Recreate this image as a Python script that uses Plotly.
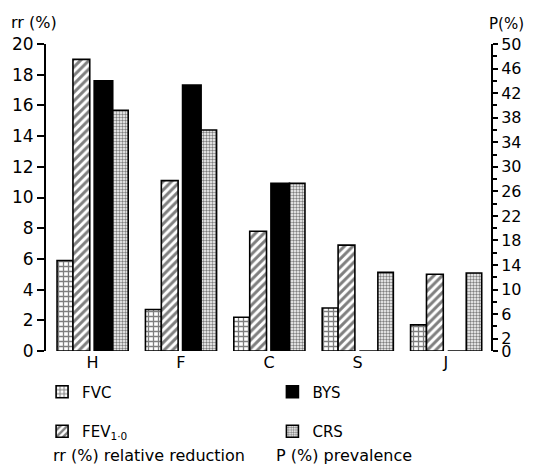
import plotly.graph_objects as go

groups = ["H", "F", "C", "S", "J"]
fvc_rr = [5.9, 2.7, 2.2, 2.8, 1.7]
fev_rr = [19.0, 11.1, 7.8, 6.9, 5.0]
bys_p = [44, 43.3, 27.3, 0, 0]
crs_p = [39.2, 36, 27.3, 12.8, 12.7]

left_ticks = [0, 2, 4, 6, 8, 10, 12, 14, 16, 18, 20]
right_ticks = [0, 2, 6, 10, 14, 18, 22, 26, 30, 34, 38, 42, 46, 50]

FONT = "DejaVu Sans"
line = dict(color="black", width=1.6)

fig = go.Figure()
fig.add_trace(go.Bar(
    x=groups, y=fvc_rr, name="FVC", yaxis="y", offsetgroup="a",
    offset=-0.40, width=0.18, legend="legend",
    marker=dict(color="white", line=line,
                pattern=dict(shape="+", size=5, solidity=0.45, fgcolor="black", bgcolor="white")),
))
fig.add_trace(go.Bar(
    x=groups, y=fev_rr, name="FEV<sub>1·0</sub>", yaxis="y", offsetgroup="b",
    offset=-0.22, width=0.19, legend="legend3",
    marker=dict(color="white", line=line,
                pattern=dict(shape="/", size=6, solidity=0.5, fgcolor="black", bgcolor="white")),
))
fig.add_trace(go.Bar(
    x=groups, y=bys_p, name="BYS", yaxis="y2", offsetgroup="c",
    offset=0.02, width=0.21, legend="legend2",
    marker=dict(color="black", line=line),
))
fig.add_trace(go.Bar(
    x=groups, y=crs_p, name="CRS", yaxis="y2", offsetgroup="d",
    offset=0.23, width=0.175, legend="legend4",
    marker=dict(color="white", line=line,
                pattern=dict(shape=".", size=3, solidity=0.5, fgcolor="black", bgcolor="white")),
))

def leg(x, y):
    return dict(x=x, y=y, xanchor="left", yanchor="middle", font=dict(size=15),
                bgcolor="rgba(0,0,0,0)", borderwidth=0)

fig.update_layout(
    width=534, height=466,
    margin=dict(l=46, r=36, t=44, b=115),
    paper_bgcolor="white", plot_bgcolor="white",
    font=dict(family=FONT, color="black", size=15),
    barmode="group",
    xaxis=dict(range=[-0.525, 4.51], showline=False, showgrid=False, zeroline=False,
               ticks="", tickfont=dict(size=16), fixedrange=True),
    yaxis=dict(range=[0, 20], tickvals=left_ticks,
               showline=True, linecolor="black", linewidth=2, ticks="outside",
               ticklen=7, tickwidth=2, tickcolor="black", showgrid=False, zeroline=False,
               tickfont=dict(size=17)),
    yaxis2=dict(range=[0, 50], overlaying="y", side="right", tickvals=right_ticks,
                showline=True, linecolor="black", linewidth=2,
                ticks="outside", ticklen=5, tickwidth=2, tickcolor="black",
                showgrid=False, zeroline=False, tickfont=dict(size=16),
                minor=dict(tickvals=list(range(0, 51, 2)), ticks="outside", ticklen=4,
                           tickwidth=1.5, tickcolor="black")),
    legend=leg(-0.0088, -0.1336),
    legend2=leg(0.5088, -0.1336),
    legend3=leg(-0.0088, -0.262),
    legend4=leg(0.5088, -0.262),
    showlegend=True,
)

fig.add_annotation(text="rr (%)", xref="paper", yref="paper", x=-0.083, y=1.07,
                   xanchor="left", yanchor="middle", showarrow=False, font=dict(size=16))
fig.add_annotation(text="P(%)", xref="paper", yref="paper", x=1.0796, y=1.065,
                   xanchor="right", yanchor="middle", showarrow=False, font=dict(size=15))
fig.add_annotation(text="rr (%) relative reduction", xref="paper", yref="paper", x=0.011, y=-0.34,
                   xanchor="left", yanchor="middle", showarrow=False, font=dict(size=16))
fig.add_annotation(text="P (%) prevalence", xref="paper", yref="paper", x=0.513, y=-0.34,
                   xanchor="left", yanchor="middle", showarrow=False, font=dict(size=16))

fig.write_html("out.html", config={"displayModeBar": False},
               post_script="document.body.style.margin='0';")
